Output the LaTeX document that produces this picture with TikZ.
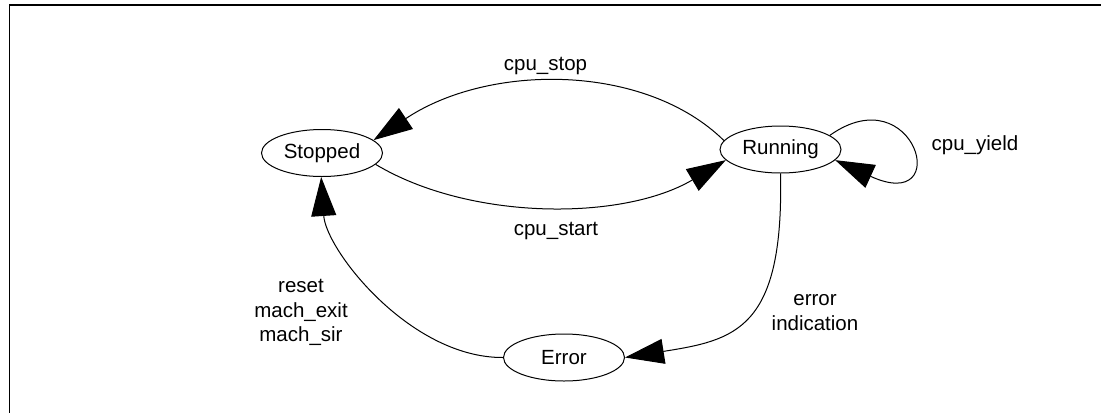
\documentclass[tikz,border=0pt]{standalone}
\usepackage{fontspec}
\setmainfont{Liberation Sans}
\usetikzlibrary{arrows.meta,shapes.geometric}
\begin{document}
\begin{tikzpicture}[x=1pt,y=-1pt,
  txt/.style={font=\fontsize{20.5}{24.5}\selectfont},
  state/.style={txt,ellipse,draw,line width=1pt,minimum width=121pt,minimum height=47pt,inner sep=0pt},
  lbl/.style={txt,inner sep=0pt,align=center,anchor=base},
  edge/.style={line width=1pt,-{Triangle[length=39pt,width=25pt]}},
  frame/.style={line width=1.5pt}
]
\useasboundingbox (0,0) rectangle (1101,413);
\draw[frame] (1101,5) -- (9.5,5) -- (9.5,413);

\node[state] (S) at (322,153) {Stopped};
\node[state] (R) at (780.5,149.5) {Running};
\node[state] (E) at (564,357.5) {Error};

\draw[edge] (R.171) .. controls (645,63) and (489,63) .. (S.14);
\draw[edge] (S.-12) .. controls (470,221) and (623,221) .. (R.191);
\draw[edge] (R.16) .. controls (915,75) and (955,215) .. (R.-11);
\draw[edge] (R.-90) .. controls (784,330) and (735,340) .. (E.0);
\draw[edge] (E.180) .. controls (410,358) and (326,250) .. (S.-92);

\node[lbl] (lstop) at (545.5,70) {cpu\_stop};
\node[lbl] (lstart) at (556,235) {cpu\_start};
\node[lbl] (lyield) at (975,150.7) {cpu\_yield};
\node[lbl] (lerr) at (815,330) {error\\indication};
\node[lbl] (lreset) at (301,341.7) {reset\\mach\_exit\\mach\_sir};
\end{tikzpicture}
\end{document}
